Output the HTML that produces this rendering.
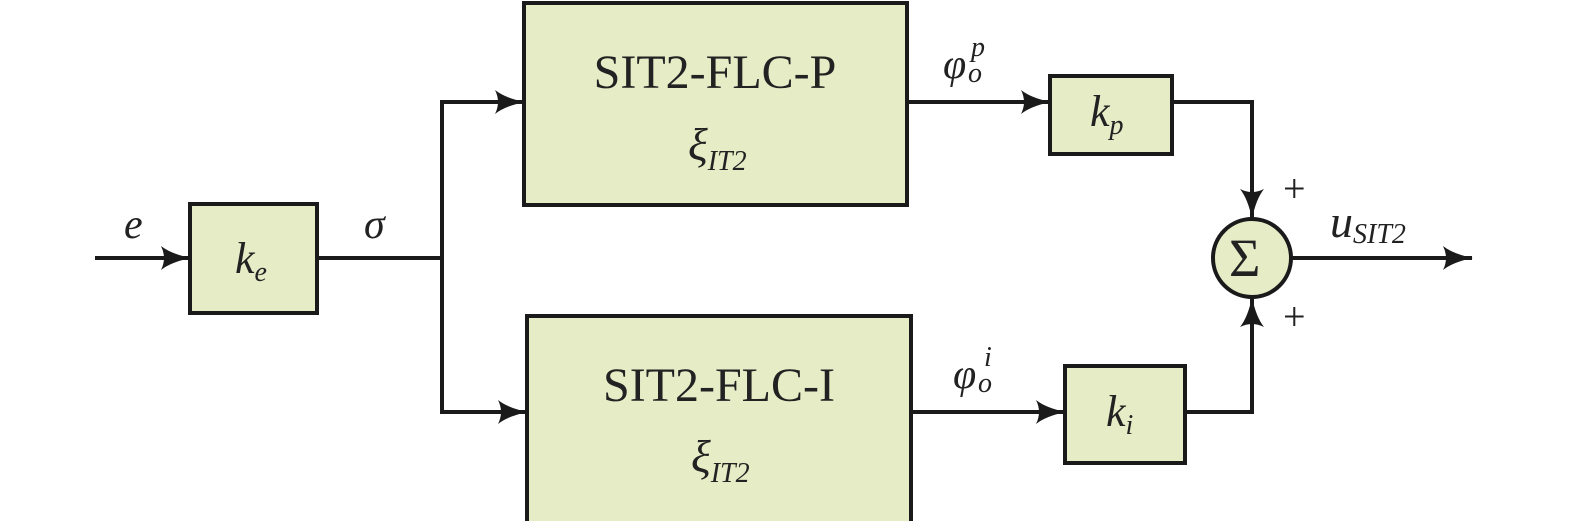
<!DOCTYPE html>
<html><head><meta charset="utf-8"><style>
html,body{margin:0;padding:0;background:#fff;}
svg{display:block}
text{font-family:"Liberation Serif",serif;fill:#222}
</style></head><body>
<svg width="1575" height="521" viewBox="0 0 1575 521" xmlns="http://www.w3.org/2000/svg">
<defs>
<marker id="a" viewBox="0 0 30 24" refX="29" refY="12" markerWidth="30" markerHeight="24" markerUnits="userSpaceOnUse" orient="auto">
<path d="M0,0 Q10,8 30,12 Q10,16 0,24 Q6,12 0,0 Z" fill="#1a1a1a"/>
</marker>
</defs>
<g stroke="#1a1a1a" stroke-width="4" fill="none">
<line x1="95" y1="258" x2="190" y2="258" marker-end="url(#a)"/>
<line x1="317" y1="258" x2="442" y2="258"/>
<polyline points="524,102 442,102 442,412 527,412" />
<line x1="442" y1="102" x2="524" y2="102" marker-end="url(#a)"/>
<line x1="442" y1="412" x2="527" y2="412" marker-end="url(#a)"/>
<line x1="907" y1="102" x2="1050" y2="102" marker-end="url(#a)"/>
<line x1="911" y1="412" x2="1065" y2="412" marker-end="url(#a)"/>
<polyline points="1172,102 1252,102 1252,218"/>
<line x1="1252" y1="190" x2="1252" y2="218" marker-end="url(#a)"/>
<polyline points="1185,412 1252,412 1252,298"/>
<line x1="1252" y1="330" x2="1252" y2="298" marker-end="url(#a)"/>
<line x1="1292" y1="258" x2="1472" y2="258" marker-end="url(#a)"/>
</g>
<g stroke="#1a1a1a" stroke-width="4" fill="#e6ecc6">
<rect x="190" y="204" width="127" height="109"/>
<rect x="524" y="3" width="383" height="202"/>
<rect x="527" y="316" width="384" height="210"/>
<rect x="1050" y="76" width="122" height="78"/>
<rect x="1065" y="366" width="120" height="97"/>
<circle cx="1252" cy="258" r="39"/>
</g>
<text x="715" y="88" font-size="48" text-anchor="middle">SIT2-FLC-P</text>
<text x="719" y="401" font-size="48" text-anchor="middle">SIT2-FLC-I</text>
<text x="688" y="160" font-size="46" font-style="italic">ξ<tspan font-size="28" dy="10">IT2</tspan></text>
<text x="691" y="472" font-size="46" font-style="italic">ξ<tspan font-size="28" dy="10">IT2</tspan></text>
<text x="235" y="273" font-size="44" font-style="italic">k<tspan font-size="28" dy="8">e</tspan></text>
<text x="1090" y="126" font-size="44" font-style="italic">k<tspan font-size="28" dy="8">p</tspan></text>
<text x="1106" y="426" font-size="44" font-style="italic">k<tspan font-size="28" dy="8">i</tspan></text>
<text x="124" y="238" font-size="42" font-style="italic">e</text>
<text x="364" y="238" font-size="42" font-style="italic">σ</text>
<text x="943" y="78" font-size="42" font-style="italic">φ</text>
<text x="968" y="82" font-size="28" font-style="italic">o</text>
<text x="971" y="56" font-size="28" font-style="italic">p</text>
<text x="953" y="388" font-size="42" font-style="italic">φ</text>
<text x="978" y="392" font-size="28" font-style="italic">o</text>
<text x="984" y="366" font-size="28" font-style="italic">i</text>
<text x="1229" y="276" font-size="54">Σ</text>
<text x="1283" y="202" font-size="40">+</text>
<text x="1283" y="330" font-size="40">+</text>
<text x="1330" y="237" font-size="46" font-style="italic">u<tspan font-size="28" dy="6">SIT2</tspan></text>
</svg>
</body></html>
